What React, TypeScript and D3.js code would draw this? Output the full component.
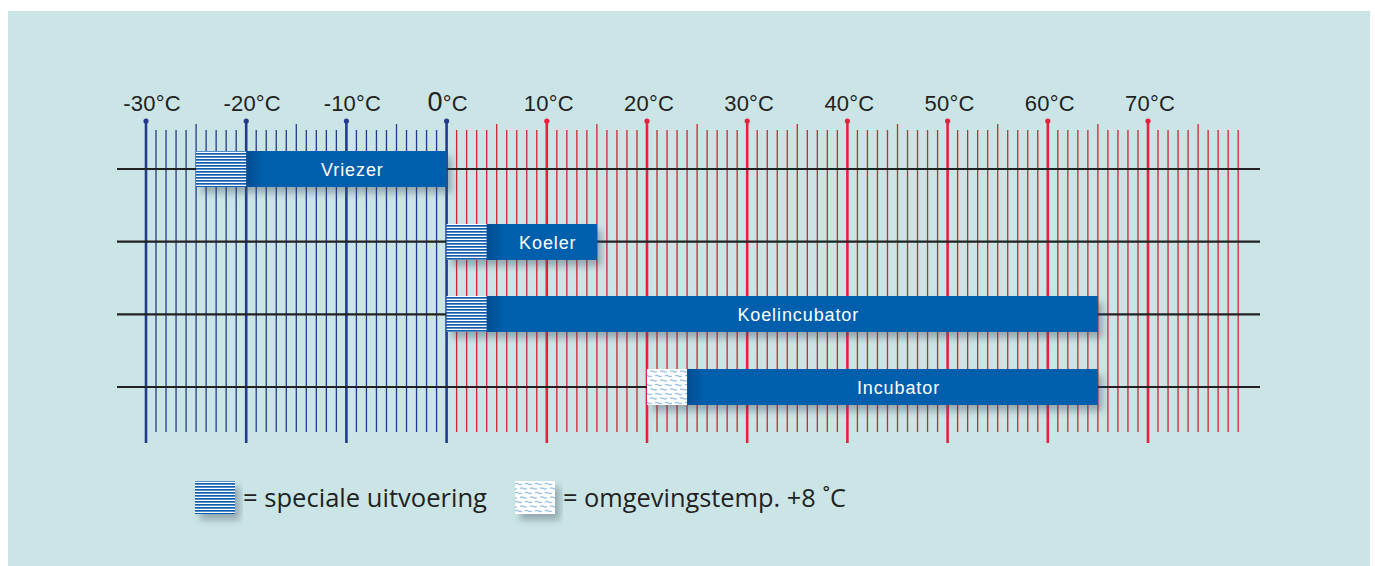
import React from "react";
import * as d3 from "d3";

// temperature ranges per cabinet type
const cabinets = ["Vriezer", "Koeler", "Koelincubator", "Incubator"];
const rangeMin = [-25, 0, 0, 20];
const rangeMax = [0, 15, 65, 65];
// extra part of the range (hatched)
const extraEnd = [-20, 4, 4, 24];
const extraKind = ["special", "special", "special", "ambient"];

const tickValues = d3.range(-30, 80);
const labelValues = d3.range(-30, 80, 10).filter((d) => d <= 70);

const legendLabels = ["= speciale uitvoering", "= omgevingstemp. +8 ˚C"];

const BLUE = "#005fad";

export default function App() {
  const x = d3.scaleLinear().domain([-30, 70]).range([146, 1148]);
  const y = d3.scalePoint<string>().domain(cabinets).range([169, 387]);
  const barH = 36;

  const lineColor = (t: number) =>
    t <= 0 ? "#233b8e" : t % 10 === 0 ? "#e8203c" : "#cf2530";

  return (
    <svg
      width={1375}
      height={566}
      style={{ position: "absolute", left: 0, top: 0 }}
      fontFamily="'Liberation Sans', Arial, sans-serif"
    >
      <defs>
        <pattern id="special" patternUnits="userSpaceOnUse" width={4} height={3}>
          <rect width={4} height={3} fill="#fff" />
          <rect width={4} height={1.7} fill="#0f5db0" />
        </pattern>
        <pattern id="ambient" patternUnits="userSpaceOnUse" width={10} height={9}>
          <rect width={10} height={9} fill="#fff" />
          <path d="M0,2.5 q1.7,-1.2 3.4,0 t3.4,0" stroke="#93bde6" strokeWidth={1.2} fill="none" />
          <path d="M5,7 q1.7,-1.2 3.4,0 t3.4,0 M-5,7 q1.7,-1.2 3.4,0 t3.4,0" stroke="#93bde6" strokeWidth={1.2} fill="none" />
        </pattern>
        <linearGradient id="edge" x1="0" x2="1" y1="0" y2="0">
          <stop offset="0%" stopColor="#0a3f7a" stopOpacity={0.55} />
          <stop offset="100%" stopColor="#0a3f7a" stopOpacity={0} />
        </linearGradient>
        <filter id="shadow" x="-10%" y="-40%" width="130%" height="200%">
          <feDropShadow dx={5} dy={6} stdDeviation={3.5} floodColor="#3a4a5a" floodOpacity={0.38} />
        </filter>
      </defs>

      {/* panel */}
      <rect x={8} y={11} width={1362} height={560} fill="#cbe5e6" />

      {/* vertical scale lines */}
      {tickValues.map((t) => {
        const major = t % 10 === 0;
        const half = t % 5 === 0;
        const cx = x(t);
        return (
          <g key={t}>
            <line
              x1={cx}
              x2={cx}
              y1={major ? 121 : half ? 124 : 130}
              y2={major ? 443 : 432}
              stroke={lineColor(t)}
              strokeWidth={major ? 2.6 : 1.3}
            />
            {major && t <= 70 && <circle cx={cx} cy={121} r={2.6} fill={lineColor(t)} />}
          </g>
        );
      })}

      {/* temperature labels */}
      {labelValues.map((t) => (
        <text
          key={t}
          x={x(t) + (t < 0 ? 6 : t === 0 ? 1 : 2)}
          y={111}
          textAnchor="middle"
          fontSize={22}
          fill="#222"
          letterSpacing={0.2}
        >
          {t === 0 ? (
            <>
              <tspan fontSize={27}>0</tspan>°C
            </>
          ) : (
            `${t}°C`
          )}
        </text>
      ))}

      {/* horizontal rows */}
      {cabinets.map((c) => (
        <line key={c} x1={117} x2={1260} y1={y(c)} y2={y(c)} stroke="#222" strokeWidth={2.2} />
      ))}

      {/* bars */}
      {cabinets.map((c, i) => {
        const top = Math.round((y(c) as number) - barH / 2);
        const x0 = x(rangeMin[i]);
        const xe = x(extraEnd[i]);
        const x1 = x(rangeMax[i]);
        return (
          <g key={c}>
            <g filter="url(#shadow)">
              <rect x={x0} y={top} width={x1 - x0} height={barH} fill={BLUE} />
            </g>
            <rect x={x0} y={top} width={xe - x0} height={barH} fill={`url(#${extraKind[i]})`} />
            <rect x={xe} y={top} width={18} height={barH} fill="url(#edge)" />
            <text
              x={(xe + x1) / 2 + 6}
              y={top + barH / 2 + 6.5}
              textAnchor="middle"
              fontSize={18}
              letterSpacing={0.9}
              fill="#fff"
            >
              {c}
            </text>
          </g>
        );
      })}

      {/* legend */}
      {legendLabels.map((l, i) => {
        const bx = i === 0 ? 195 : 515;
        return (
          <g key={l}>
            <g filter="url(#shadow)">
              <rect x={bx} y={481} width={40} height={33} fill={`url(#${i === 0 ? "special" : "ambient"})`} />
            </g>
            <text
              x={bx + 48}
              y={507}
              fontSize={25}
              fill="#222"
              fontFamily="'Liberation Sans Narrow', 'Open Sans', sans-serif"
              textLength={i === 0 ? 244 : 283}
              lengthAdjust="spacingAndGlyphs"
            >
              {l}
            </text>
          </g>
        );
      })}
    </svg>
  );
}
